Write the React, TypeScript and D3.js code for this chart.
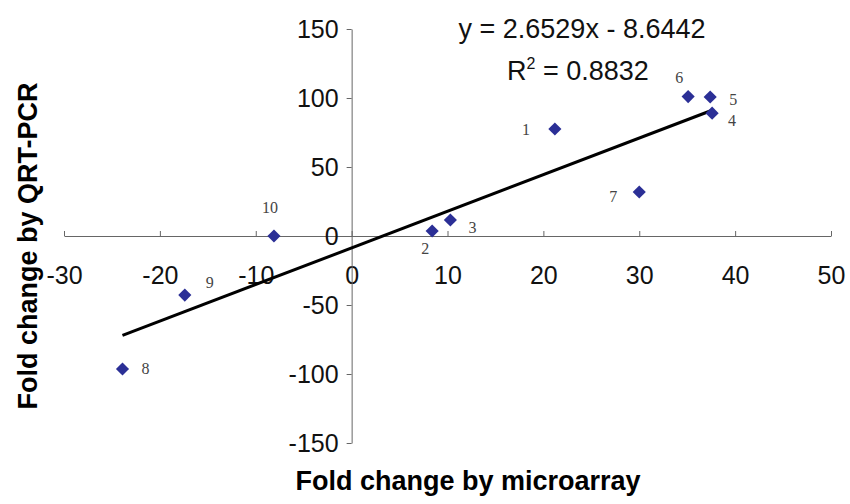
import React, { useRef, useEffect } from 'react';
import * as d3 from 'd3';

// fold change values, genes 1..10
const geneIds = ['1', '2', '3', '4', '5', '6', '7', '8', '9', '10'];
const microarray = [21.2, 8.4, 10.3, 37.6, 37.4, 35.1, 30.0, -23.9, -17.4, -8.1];
const qrtPcr = [77.5, 3.6, 11.6, 89, 100.7, 101, 31.9, -96.4, -42.8, 0];

const xTicks = [-30, -20, -10, 0, 10, 20, 30, 40, 50];
const yTicks = [-150, -100, -50, 0, 50, 100, 150];

const slope = 2.6529;
const intercept = -8.6442;
const rSquared = 0.8832;

// where each point's number sits relative to the marker (px)
const labelOffsets = [
  [-29, 0], [-7, 17], [22, 7], [20, 7], [23, 2],
  [-9, -19], [-26, 4], [23, -1], [25, -13], [-4, -29],
];

const W = 850;
const H = 504;
const SANS = '"Liberation Sans", Arial, sans-serif';
const SERIF = '"Liberation Serif", "Times New Roman", serif';

// plain hyphen for negatives, like the original spreadsheet output
const fmt = (d: d3.NumberValue) => String(d);

const ScatterRegression = () => {
  const svgRef = useRef<SVGSVGElement>(null);

  useEffect(() => {
    const svg = d3.select(svgRef.current);
    svg.selectAll('*').remove();

    const x = d3.scaleLinear().domain([-30, 50]).range([64, 831]);
    const y = d3.scaleLinear().domain([-150, 150]).range([443, 29]);

    // x axis crossing at y = 0, ticks pointing up
    const gx = svg
      .append('g')
      .attr('transform', `translate(0,${y(0)})`)
      .call(d3.axisBottom(x).tickValues(xTicks).tickSize(-5).tickSizeOuter(0).tickFormat(fmt));
    gx.select('.domain').attr('stroke', '#666');
    gx.selectAll('.tick line').attr('stroke', '#666');
    gx.selectAll('.tick text')
      .attr('y', 48)
      .attr('dy', 0)
      .attr('fill', '#111')
      .style('font-family', SANS)
      .style('font-size', '25px');

    // y axis crossing at x = 0
    const gy = svg
      .append('g')
      .attr('transform', `translate(${x(0)},0)`)
      .call(d3.axisLeft(y).tickValues(yTicks).tickSize(5).tickSizeOuter(0).tickPadding(8).tickFormat(fmt));
    gy.select('.domain').attr('stroke', '#666');
    gy.selectAll('.tick line').attr('stroke', '#666');
    gy.selectAll('.tick text')
      .attr('fill', '#111')
      .style('font-family', SANS)
      .style('font-size', '25px');

    // trend line over the range of the data
    const [xmin, xmax] = d3.extent(microarray) as [number, number];
    svg
      .append('line')
      .attr('x1', x(xmin))
      .attr('y1', y(slope * xmin + intercept))
      .attr('x2', x(xmax))
      .attr('y2', y(slope * xmax + intercept))
      .attr('stroke', '#000')
      .attr('stroke-width', 3);

    const pts = geneIds.map((id, i) => ({ id, mx: microarray[i], q: qrtPcr[i], off: labelOffsets[i] }));

    const diamond = d3.symbol().type(d3.symbolDiamond2).size(110);
    svg
      .selectAll('path.pt')
      .data(pts)
      .enter()
      .append('path')
      .attr('class', 'pt')
      .attr('d', diamond)
      .attr('transform', (d) => `translate(${x(d.mx)},${y(d.q)})`)
      .attr('fill', '#2b2f96');

    svg
      .selectAll('text.lbl')
      .data(pts)
      .enter()
      .append('text')
      .attr('class', 'lbl')
      .attr('x', (d) => x(d.mx) + d.off[0])
      .attr('y', (d) => y(d.q) + d.off[1])
      .attr('dy', '0.35em')
      .attr('text-anchor', 'middle')
      .attr('fill', '#444')
      .style('font-family', SERIF)
      .style('font-size', '16px')
      .text((d) => d.id);

    // equation
    const sign = intercept < 0 ? '-' : '+';
    svg
      .append('text')
      .attr('x', 582)
      .attr('y', 38)
      .attr('text-anchor', 'middle')
      .style('font-family', SANS)
      .style('font-size', '27px')
      .attr('fill', '#111')
      .text(`y = ${slope}x ${sign} ${Math.abs(intercept)}`);

    const r2 = svg
      .append('text')
      .attr('x', 578)
      .attr('y', 80)
      .attr('text-anchor', 'middle')
      .style('font-family', SANS)
      .style('font-size', '27px')
      .attr('fill', '#111');
    r2.append('tspan').text('R');
    r2.append('tspan').attr('dy', -11).style('font-size', '16px').text('2');
    r2.append('tspan').attr('dy', 11).text(` = ${rSquared}`);

    // axis titles
    svg
      .append('text')
      .attr('x', 468)
      .attr('y', 490)
      .attr('text-anchor', 'middle')
      .style('font-family', SANS)
      .style('font-size', '27px')
      .style('font-weight', 'bold')
      .attr('fill', '#000')
      .text('Fold change by microarray');

    svg
      .append('text')
      .attr('transform', 'translate(37,246) rotate(-90)')
      .attr('text-anchor', 'middle')
      .style('font-family', SANS)
      .style('font-size', '27px')
      .style('font-weight', 'bold')
      .attr('fill', '#000')
      .text('Fold change by QRT-PCR');
  }, []);

  return (
    <svg
      ref={svgRef}
      width={W}
      height={H}
      style={{ position: 'absolute', left: 0, top: 0, background: '#fff' }}
    />
  );
};

export default function App() {
  return <ScatterRegression />;
}
